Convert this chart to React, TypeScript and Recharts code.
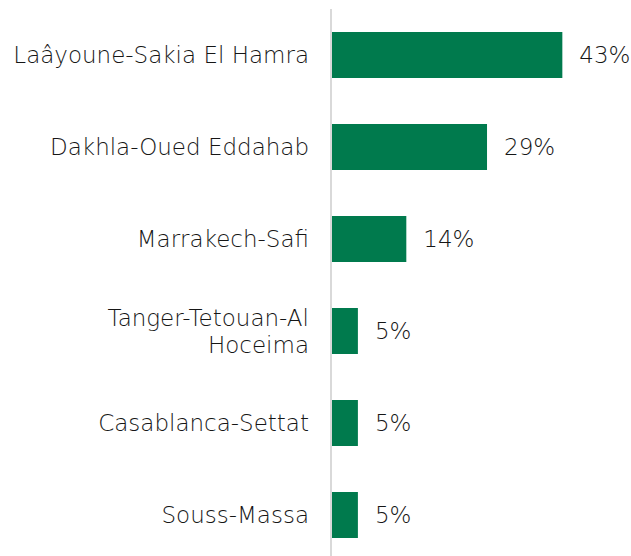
import { BarChart, Bar, XAxis, YAxis } from 'recharts';

// Share by region, in percent
const regions = [
  'Laâyoune-Sakia El Hamra',
  'Dakhla-Oued Eddahab',
  'Marrakech-Safi',
  'Tanger-Tetouan-Al Hoceima',
  'Casablanca-Settat',
  'Souss-Massa',
];
const shares = [43, 29, 14, 5, 5, 5];

const data = regions.map((region, i) => ({ region, share: shares[i] }));

const FONT = "'DejaVu Sans', sans-serif";
const LINE_H = 27;

// long names go on two lines, broken at the last space
const splitLabel = (s: string) => {
  if (s.length <= 23) return [s];
  const i = s.lastIndexOf(' ');
  return i > 0 ? [s.slice(0, i), s.slice(i + 1)] : [s];
};

const RegionTick = ({ x, y, payload }: any) => {
  const lines = splitLabel(String(payload.value));
  const start = -((lines.length - 1) * LINE_H) / 2;
  return (
    <text
      x={x}
      y={y}
      textAnchor="end"
      fill="#161616"
      fontSize={23}
      fontFamily={FONT}
      fontWeight={200}
    >
      {lines.map((line, i) => (
        <tspan key={i} x={x} y={y + start + i * LINE_H} dy="0.36em">
          {line}
        </tspan>
      ))}
    </text>
  );
};

const ShareLabel = ({ x, y, width, height, value }: any) => (
  <text
    x={x + width + 17}
    y={y + height / 2}
    dy="0.36em"
    fill="#161616"
    fontSize={23}
    fontFamily={FONT}
    fontWeight={200}
  >
    {`${value}%`}
  </text>
);

export default function App() {
  return (
    <div
      style={{
        position: 'absolute',
        top: 0,
        left: 0,
        width: 631,
        height: 556,
        overflow: 'hidden',
        background: '#ffffff',
      }}
    >
      <BarChart
        width={631}
        height={561}
        data={data}
        layout="vertical"
        barCategoryGap="25%"
        margin={{ top: 9, right: 31, bottom: 0, left: 0 }}
      >
        <XAxis type="number" domain={[0, 50]} hide />
        <YAxis
          type="category"
          dataKey="region"
          width={331}
          tickLine={false}
          tickMargin={16}
          axisLine={{ stroke: '#d9d9d9', strokeWidth: 2 }}
          tick={<RegionTick />}
          interval={0}
        />
        <Bar dataKey="share" fill="#007a4d" isAnimationActive={false} label={<ShareLabel />} />
      </BarChart>
    </div>
  );
}
